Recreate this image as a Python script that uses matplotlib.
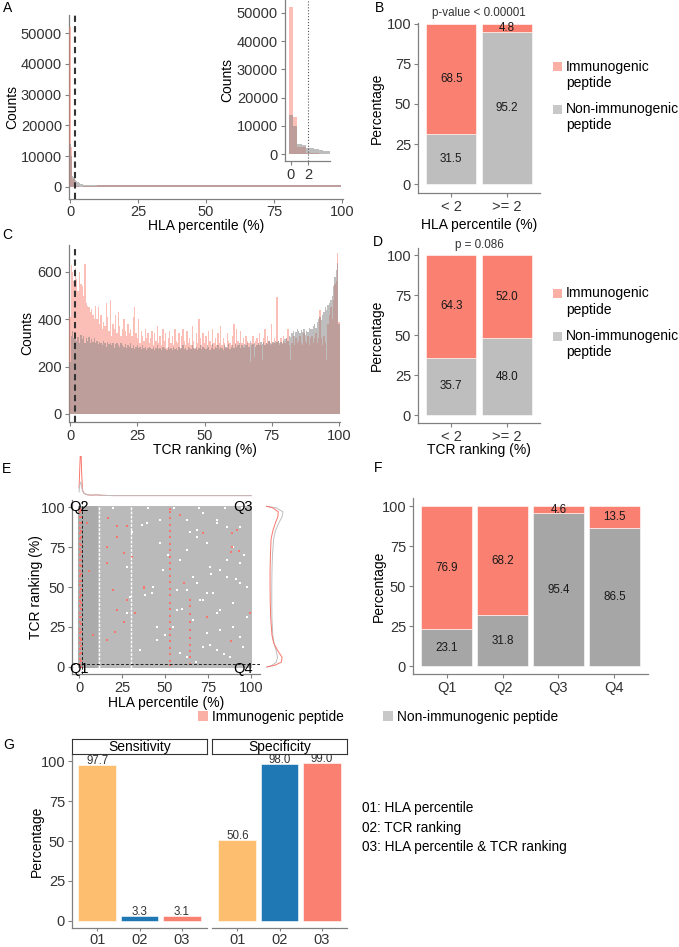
# -*- coding=utf-8 -*-
import numpy as np
import matplotlib
matplotlib.use('Agg')
import matplotlib.pyplot as plt
from matplotlib.patches import Patch, Rectangle

plt.rcParams['font.family'] = ['Liberation Sans', 'DejaVu Sans']

# ---------------- data ----------------
# A: HLA percentile histogram (0.5 bins centred on 0, 0.5, ... 99.5)
hla_imm_head = [52000, 13000, 2600, 2500, 300, 220, 180, 150, 120, 100]      # 0 - 4.5
hla_non_head = [14000, 10000, 3500, 3200, 2300, 2000, 1700, 1400, 1100, 900]
# 5 - 99.5, one count per 5 % block
hla_imm_tail = [250, 550, 600, 580, 600, 590, 600, 610, 600, 580, 600, 610, 590, 600, 610, 580, 600, 590, 610]
hla_non_tail = [800, 650, 520, 500, 500, 490, 500, 500, 510, 500, 490, 500, 510, 500, 490, 500, 510, 500, 510]

# C: TCR ranking histogram (0.5 bins centred on 0, 0.5, ... 100)
tcr_imm = [
    410, 630, 600, 560, 615, 570, 520, 600, 550, 540, 500, 635, 470, 455, 450, 430, 445, 420, 400, 455,
    400, 450, 380, 420, 360, 390, 370, 470, 410, 350, 480, 330, 380, 360, 420, 340, 430, 370, 330, 360,
    400, 350, 330, 380, 340, 360, 330, 410, 450, 340, 320, 400, 300, 350, 330, 310, 360, 320, 340, 300,
    320, 350, 290, 340, 310, 370, 300, 330, 290, 360, 310, 340, 280, 320, 350, 300, 330, 290, 360, 310,
    300, 340, 280, 330, 360, 310, 290, 350, 300, 320, 290, 370, 310, 280, 340, 300, 400, 320, 290, 340,
    300, 330, 280, 350, 310, 290, 360, 300, 320, 290, 340, 300, 370, 290, 320, 300, 280, 340, 310, 300,
    290, 330, 380, 300, 360, 310, 290, 350, 300, 320, 280, 330, 310, 300, 220, 300, 330, 240, 310, 320,
    300, 340, 290, 230, 320, 360, 300, 330, 310, 290, 380, 300, 320, 300, 496, 310, 290, 320, 300, 330,
    300, 320, 360, 290, 230, 300, 330, 290, 320, 300, 310, 330, 300, 290, 340, 310, 300, 330, 290, 320,
    330, 300, 320, 340, 300, 320, 440, 320, 290, 330, 300, 230, 380, 420, 450, 400, 480, 550, 560, 680,
    390]
tcr_non = [
    220, 330, 350, 320, 340, 310, 325, 300, 335, 315, 330, 300, 320, 310, 325, 300, 315, 305, 320, 300,
    310, 295, 305, 300, 290, 310, 300, 285, 305, 295, 300, 290, 300, 280, 295, 300, 290, 285, 300, 290,
    285, 295, 280, 290, 285, 300, 280, 290, 275, 285, 290, 280, 285, 275, 290, 280, 285, 270, 280, 285,
    280, 275, 285, 270, 280, 290, 275, 280, 270, 285, 280, 275, 270, 285, 275, 280, 270, 285, 275, 280,
    270, 285, 275, 280, 290, 275, 280, 270, 285, 280, 275, 290, 280, 275, 285, 270, 280, 290, 275, 285,
    280, 275, 290, 285, 270, 280, 295, 275, 285, 280, 290, 275, 285, 280, 270, 290, 285, 280, 295, 275,
    285, 290, 280, 295, 285, 290, 300, 280, 290, 285, 295, 290, 300, 285, 310, 290, 295, 300, 285, 290,
    300, 290, 305, 295, 305, 290, 300, 295, 310, 300, 295, 305, 300, 310, 305, 310, 300, 305, 295, 310,
    315, 320, 310, 330, 325, 340, 350, 330, 345, 360, 350, 340, 355, 345, 360, 335, 350, 345, 365, 360,
    360, 370, 380, 365, 390, 400, 410, 395, 420, 430, 450, 440, 460, 470, 480, 500, 540, 580, 610, 640,
    380]

# B / D / F: stacked percentages
hla_groups = ['< 2', '>= 2']
hla_imm_pct = [68.5, 4.8]
hla_non_pct = [31.5, 95.2]
hla_pvalue = 'p-value < 0.00001'

tcr_groups = ['< 2', '>= 2']
tcr_imm_pct = [64.3, 52.0]
tcr_non_pct = [35.7, 48.0]
tcr_pvalue = 'p = 0.086'

quadrants = ['Q1', 'Q2', 'Q3', 'Q4']
quad_imm_pct = [76.9, 68.2, 4.6, 13.5]
quad_non_pct = [23.1, 31.8, 95.4, 86.5]

# E: HLA percentile vs TCR ranking
threshold = 2
cloud_dense_hla = [-0.5, 11.0]
cloud_sparse_hla = [11.0, 100.5]
cloud_tcr = [-0.5, 100.5]
gap_hla = [11.5, 30.0]
hole_hla = [30.6, 36.4, 47.0, 62.6, 64.5, 68.4, 74.2, 80.0, 85.9, 89.7, 82.0, 66.5, 58.7, 27.7, 74.2,
            93.6, 56.8, 43.2, 38.4, 29.7, 42.3, 62.6, 70.3, 78.1, 89.7, 66.5, 54.8, 82.0, 93.6, 45.2,
            72.3, 87.8, 62.6, 35.5, 27.7, 97.5, 80.0, 72.3, 47.1, 85.9, 93.6, 52.0, 77.0, 91.0, 60.0,
            20.0, 40.0, 55.0, 70.0, 85.0, 95.0, 68.0, 84.0, 96.0, 50.0, 76.0,
            39.3, 47.1, 68.4, 80.0, 93.6, 76.2, 85.9, 97.5, 72.3, 82.0, 56.8, 45.2, 74.2, 89.7, 80.0,
            58.7, 95.5, 68.4, 49.0, 62.6]
hole_tcr = [84.6, 88.8, 77.5, 91.9, 84.6, 81.4, 77.3, 89.8, 66.9, 75.2, 60.6, 56.4, 66.9, 62.7, 46.0,
            52.3, 48.1, 50.2, 45.0, 43.9, 46.0, 48.1, 41.9, 46.0, 39.8, 29.4, 25.2, 23.1, 18.9, 16.9,
            12.7, 6.4, 6.4, 10.6, 33.6, 31.4, 33.6, 96.0, 91.9, 87.7, 64.8, 70.0, 58.0, 55.0, 36.0,
            99.5, 99.5, 99.5, 99.5, 99.5, 99.5, 3.0, 8.0, 70.0, 20.0, 14.0,
            89.8, 77.3, 85.6, 91.9, 87.7, 62.7, 56.4, 50.2, 41.9, 35.6, 35.6, 25.2, 21.0, 25.2, 10.6,
            8.6, 12.7, 52.3, 60.6, 73.1]
red_col_hla = [0.6, 1.3, 52.7, 64.5]
red_col_tcr = [
    [2, 5, 8, 11, 15, 18, 21, 24, 28, 31, 34, 38, 41, 44, 47, 51, 54, 57, 60, 64, 67, 70, 74, 77, 80, 84, 87, 90, 94, 97, 99],
    [0, 4, 9, 13, 17, 22, 27, 31, 36, 40, 45, 49, 54, 58, 63, 67, 72, 76, 81, 85, 90, 94, 98],
    [1, 4, 8, 12, 16, 20, 24, 28, 32, 36, 40, 45, 49, 53, 57, 61, 65, 69, 73, 77, 81, 85, 89, 93, 97, 99],
    [2, 6, 10, 14, 18, 23, 28, 33, 38, 42],
]
red_hla = [16.7, 22.3, 27.7, 21.9, 16.5, 26.2, 30.6, 16.5, 37.8, 19.9, 27.7, 21.9, 32.6, 26.2, 16.5,
           20.9, 88.8, 92.0, 99.4, 88.2, 58.7, 72.3, 74.2, 6.0, 4.5, 8.0, 88.8, 88.2, 93.2, 37.8, 61.0]
red_tcr = [92.9, 88.1, 88.1, 81.4, 75.2, 71.0, 68.9, 64.8, 50.2, 48.1, 41.9, 35.6, 33.6, 28.3, 16.9,
           22.1, 75.2, 85.6, 33.6, 16.5, 95.0, 83.5, 31.4, 60.0, 90.0, 20.0, 83.7, 72.0, 72.7, 49.4, 52.7]
# marginal densities (scaled)
dens_hla_grid = [0, 0.5, 1, 1.5, 2, 3, 5, 8, 10, 12, 15, 20, 30, 50, 75, 100]
dens_hla_imm = [0.2, 0.8, 1.3, 0.6, 0.15, 0.06, 0.03, 0.02, 0.03, 0.02, 0.015, 0.01, 0.01, 0.01, 0.01, 0.01]
dens_hla_non = [0.1, 0.3, 0.35, 0.25, 0.12, 0.06, 0.03, 0.02, 0.03, 0.02, 0.015, 0.01, 0.01, 0.01, 0.01, 0.01]
dens_tcr_grid = [0, 1, 3, 6, 10, 15, 20, 30, 40, 50, 60, 70, 80, 85, 90, 94, 97, 99.5, 100.5]
dens_tcr_imm = [0.05, 0.5, 0.9, 0.95, 0.7, 0.45, 0.35, 0.28, 0.25, 0.24, 0.24, 0.26, 0.3, 0.4, 0.55, 0.7, 0.72, 0.4, 0.02]
dens_tcr_non = [0.05, 0.35, 0.6, 0.68, 0.6, 0.47, 0.4, 0.35, 0.34, 0.34, 0.35, 0.38, 0.45, 0.55, 0.75, 0.95, 1.0, 0.6, 0.02]

# G: sensitivity / specificity
methods = ['01', '02', '03']
method_names = ['01: HLA percentile', '02: TCR ranking', '03: HLA percentile & TCR ranking']
sensitivity = [97.7, 3.3, 3.1]
specificity = [50.6, 98.0, 99.0]

# ---------------- style ----------------
IMM = '#FA8072'
NON = '#BEBEBE'
NON_F = '#A6A6A6'
HIST_NON = '#7F7F7F'
DOT_RED = '#F8766D'
CLOUD_DENSE = '#ABABAB'
CLOUD_SPARSE = '#BABABA'
METHOD_COLORS = ['#FDBF6F', '#1F78B4', '#FA8072']
LEG_IMM = '#FBB0A6'
LEG_NON = '#C8C8C8'
AXC = '#808080'
TICKC = '#333333'
TICK_FS = 10.5

W, H = 679, 947
fig = plt.figure(figsize=(W / 100, H / 100), dpi=100)


def add_ax(box):
    x, y, w, h = box
    return fig.add_axes([x / W, 1 - (y + h) / H, w / W, h / H])


def classic(ax, left=True):
    for s in ['top', 'right']:
        ax.spines[s].set_visible(False)
    ax.spines['left'].set_visible(left)
    for s in ['left', 'bottom']:
        ax.spines[s].set_color(AXC)
        ax.spines[s].set_linewidth(0.9)
    ax.tick_params(length=3, width=0.8, color=AXC, labelsize=TICK_FS, labelcolor=TICKC, pad=2)


def ylab(ax, box, text, xc):
    x, y, w, h = box
    ax.set_ylabel(text, fontsize=10)
    ax.yaxis.set_label_coords((xc + 7 - x) / w, 0.5)


def xlab(ax, box, text, yc):
    x, y, w, h = box
    ax.set_xlabel(text, fontsize=10)
    ax.xaxis.set_label_coords(0.5, (y + h - (yc - 7)) / h)


def letter(s, x, y):
    fig.text(x / W, 1 - y / H, s, fontsize=10, ha='left', va='center')


def side_legend(top):
    # ggplot-like legend: key aligned with the first line of each label
    for i, (col, lab) in enumerate([(LEG_IMM, 'Immunogenic\npeptide'), (LEG_NON, 'Non-immunogenic\npeptide')]):
        c = top + 42.5 * i
        fig.add_artist(Rectangle((553 / W, 1 - (c + 4.5) / H), 9 / W, 9 / H,
                                 transform=fig.transFigure, facecolor=col, linewidth=0))
        fig.text(566 / W, 1 - (c - 7.5) / H, lab, fontsize=10, ha='left', va='top', linespacing=1.22)


def stacked(ax, groups, imm, non, non_color):
    pos = np.arange(1, len(groups) + 1)
    ax.bar(pos, non, width=0.9, color=non_color, edgecolor='white', linewidth=0.4)
    ax.bar(pos, imm, width=0.9, bottom=non, color=IMM, edgecolor='white', linewidth=0.4)
    for p, a, b in zip(pos, imm, non):
        ax.text(p, b / 2, f'{b:.1f}', ha='center', va='center', fontsize=8.4, color='#1a1a1a')
        ax.text(p, b + a / 2, f'{a:.1f}', ha='center', va='center', fontsize=8.4, color='#1a1a1a')
    ax.set_xticks(pos)
    ax.set_xticklabels(groups)
    ax.set_yticks([0, 25, 50, 75, 100])
    ax.set_xlim(0.4, len(groups) + 0.6)
    classic(ax)


BOX_A = (69, 15, 274, 184)
BOX_A_IN = (285, 0, 45, 161)
BOX_B = (418, 23, 122, 170)
BOX_C = (69, 245, 271, 177)
BOX_D = (418, 248, 122, 175)
BOX_E = (72, 500, 188, 174)
BOX_E_TOP = (72, 456, 188, 44)
BOX_E_RIGHT = (266, 500, 30, 174)
BOX_F = (413, 498, 235, 176)
BOX_G1 = (72, 754, 135, 174)
BOX_G2 = (212, 754, 135, 174)
STRIP_G1 = (72, 739, 135, 15)
STRIP_G2 = (212, 739, 135, 15)

hla_imm = np.concatenate([hla_imm_head, np.repeat(hla_imm_tail, 10)])
hla_non = np.concatenate([hla_non_head, np.repeat(hla_non_tail, 10)])
hla_centres = np.arange(len(hla_imm)) * 0.5
tcr_centres = np.arange(len(tcr_imm)) * 0.5

# ---------------- A ----------------
ax = add_ax(BOX_A)
ax.bar(hla_centres, hla_imm, width=0.5, color=IMM, alpha=0.5, linewidth=0, zorder=3)
ax.bar(hla_centres, hla_non, width=0.5, color=HIST_NON, alpha=0.5, linewidth=0, zorder=3)
ax.axvline(threshold, color='#333333', lw=1.5, dashes=(3, 2), zorder=4)
ax.set_xlim(-0.37, 100.4)
ax.set_ylim(-3900, 55850)
ax.set_xticks([0, 25, 50, 75, 100])
ax.set_yticks([0, 10000, 20000, 30000, 40000, 50000])
classic(ax)
ax.tick_params(axis='x', pad=1.5)
ylab(ax, BOX_A, 'Counts', 12)
xlab(ax, BOX_A, 'HLA percentile (%)', 226)

ax = add_ax(BOX_A_IN)
ax.bar(hla_centres, hla_imm, width=0.5, color=IMM, alpha=0.5, linewidth=0)
ax.bar(hla_centres, hla_non, width=0.5, color=HIST_NON, alpha=0.5, linewidth=0)
ax.axvline(threshold, color='#555555', lw=0.8, ls=':')
ax.set_xlim(-0.7, 4.6)
ax.set_ylim(-2480, 54600)
ax.set_xticks([0, 2])
ax.set_yticks([0, 10000, 20000, 30000, 40000, 50000])
classic(ax)
ylab(ax, BOX_A_IN, 'Counts', 227)

# ---------------- B ----------------
ax = add_ax(BOX_B)
stacked(ax, hla_groups, hla_imm_pct, hla_non_pct, NON)
ax.set_ylim(-5.6, 100.6)
ax.text(1.5, 106.9, hla_pvalue, ha='center', va='center', fontsize=8.4, color=TICKC)
ylab(ax, BOX_B, 'Percentage', 377)
xlab(ax, BOX_B, 'HLA percentile (%)', 225)
side_legend(67)

# ---------------- C ----------------
ax = add_ax(BOX_C)
ax.bar(tcr_centres, tcr_imm, width=0.5, color=IMM, alpha=0.5, linewidth=0, zorder=3)
ax.bar(tcr_centres, tcr_non, width=0.5, color=HIST_NON, alpha=0.5, linewidth=0, zorder=3)
ax.axvline(threshold, color='#333333', lw=1.5, dashes=(3, 2), zorder=4)
ax.set_xlim(-0.4, 100.4)
ax.set_ylim(-34, 714)
ax.set_xticks([0, 25, 50, 75, 100])
ax.set_yticks([0, 200, 400, 600])
classic(ax)
ylab(ax, BOX_C, 'Counts', 27)
xlab(ax, BOX_C, 'TCR ranking (%)', 450)

# ---------------- D ----------------
ax = add_ax(BOX_D)
stacked(ax, tcr_groups, tcr_imm_pct, tcr_non_pct, NON)
ax.set_ylim(-5, 104.4)
ax.text(1.5, 106.3, tcr_pvalue, ha='center', va='center', fontsize=8.4, color=TICKC)
ylab(ax, BOX_D, 'Percentage', 377)
xlab(ax, BOX_D, 'TCR ranking (%)', 450)
side_legend(294)

# ---------------- E ----------------
ax = add_ax(BOX_E)
for span, col in [(cloud_dense_hla, CLOUD_DENSE), (cloud_sparse_hla, CLOUD_SPARSE)]:
    ax.fill_between(span, cloud_tcr[0], cloud_tcr[1], color=col, linewidth=0)
ax.vlines(gap_hla, cloud_tcr[0], cloud_tcr[1], colors='white', linewidth=1.0, linestyles=(0, (2, 1)))
ax.scatter(hole_hla, hole_tcr, s=4, marker='s', color='white', linewidths=0)
for xc, ys in zip(red_col_hla, red_col_tcr):
    ax.scatter(np.full(len(ys), xc), ys, s=3.5, marker='s', color=DOT_RED, linewidths=0)
ax.scatter(red_hla, red_tcr, s=3.5, marker='s', color=DOT_RED, linewidths=0)
ax.axvline(threshold, color='#222222', lw=0.7, dashes=(3, 2))
ax.axhline(threshold, color='#222222', lw=0.7, dashes=(3, 2))
ax.text(0, 100, 'Q2', ha='center', va='center', fontsize=TICK_FS)
ax.text(101, 100, 'Q3', ha='right', va='center', fontsize=TICK_FS)
ax.text(0, -1, 'Q1', ha='center', va='center', fontsize=TICK_FS)
ax.text(101, -1, 'Q4', ha='right', va='center', fontsize=TICK_FS)
ax.set_xlim(-4.1, 105.2)
ax.set_ylim(-4.4, 104.4)
ax.set_xticks([0, 25, 50, 75, 100])
ax.set_yticks([0, 25, 50, 75, 100])
classic(ax)
ylab(ax, BOX_E, 'TCR ranking (%)', 36)
xlab(ax, BOX_E, 'HLA percentile (%)', 703)

ax = add_ax(BOX_E_TOP)
ax.plot(dens_hla_grid, dens_hla_imm, color=DOT_RED, lw=0.7)
ax.plot(dens_hla_grid, dens_hla_non, color=NON, lw=0.7)
ax.set_xlim(-4.1, 105.2)
ax.set_ylim(-0.1, 1.0)
ax.axis('off')

ax = add_ax(BOX_E_RIGHT)
ax.plot(dens_tcr_non, dens_tcr_grid, color=NON, lw=0.7)
ax.plot(dens_tcr_imm, dens_tcr_grid, color=DOT_RED, lw=0.7)
ax.set_ylim(-4.4, 104.4)
ax.set_xlim(0, 30 / 17)
ax.axis('off')

bottom_handles = [Patch(facecolor=LEG_IMM, linewidth=0), Patch(facecolor=LEG_NON, linewidth=0)]
fig.legend(bottom_handles, ['Immunogenic peptide', 'Non-immunogenic peptide'], loc='center left',
           bbox_to_anchor=(198 / W, 1 - 717 / H), ncol=2, frameon=False, fontsize=9.9,
           handlelength=0.75, handleheight=0.75, handletextpad=0.3, columnspacing=2.8,
           borderpad=0, borderaxespad=0)

# ---------------- F ----------------
ax = add_ax(BOX_F)
stacked(ax, quadrants, quad_imm_pct, quad_non_pct, NON_F)
ax.set_ylim(-5, 105)
ylab(ax, BOX_F, 'Percentage', 379)

# ---------------- G ----------------
pos = np.arange(1, len(methods) + 1)
for box, sbox, vals, title, first in [(BOX_G1, STRIP_G1, sensitivity, 'Sensitivity', True),
                                      (BOX_G2, STRIP_G2, specificity, 'Specificity', False)]:
    ax = add_ax(box)
    ax.bar(pos, vals, width=0.9, color=METHOD_COLORS, edgecolor='white', linewidth=0.4)
    for p, v in zip(pos, vals):
        ax.text(p, v + 0.6, f'{v:.1f}', ha='center', va='baseline', fontsize=8.3, color=TICKC)
    ax.set_xlim(0.4, 3.6)
    ax.set_ylim(-4.4, 104.4)
    ax.set_xticks(pos)
    ax.set_xticklabels(methods)
    ax.set_yticks([0, 25, 50, 75, 100])
    classic(ax, left=first)
    ax.tick_params(axis='x', pad=1, length=2.5)
    if first:
        ylab(ax, box, 'Percentage', 37)
    else:
        ax.tick_params(axis='y', left=False, labelleft=False)
    st = add_ax(sbox)
    st.set_xticks([])
    st.set_yticks([])
    for s in st.spines.values():
        s.set_color('#333333')
        s.set_linewidth(0.8)
    st.text(0.5, 0.5, title, ha='center', va='center', fontsize=10, transform=st.transAxes)

for i, name in enumerate(method_names):
    fig.text(362 / W, 1 - (808 + 19.5 * i) / H, name, fontsize=9.8, ha='left', va='center')

letter('A', 3, 8)
letter('B', 375, 8)
letter('C', 2, 235)
letter('D', 373, 242)
letter('E', 2, 469)
letter('F', 374, 468)
letter('G', 3, 745)

fig.savefig('out.png', dpi=100)
